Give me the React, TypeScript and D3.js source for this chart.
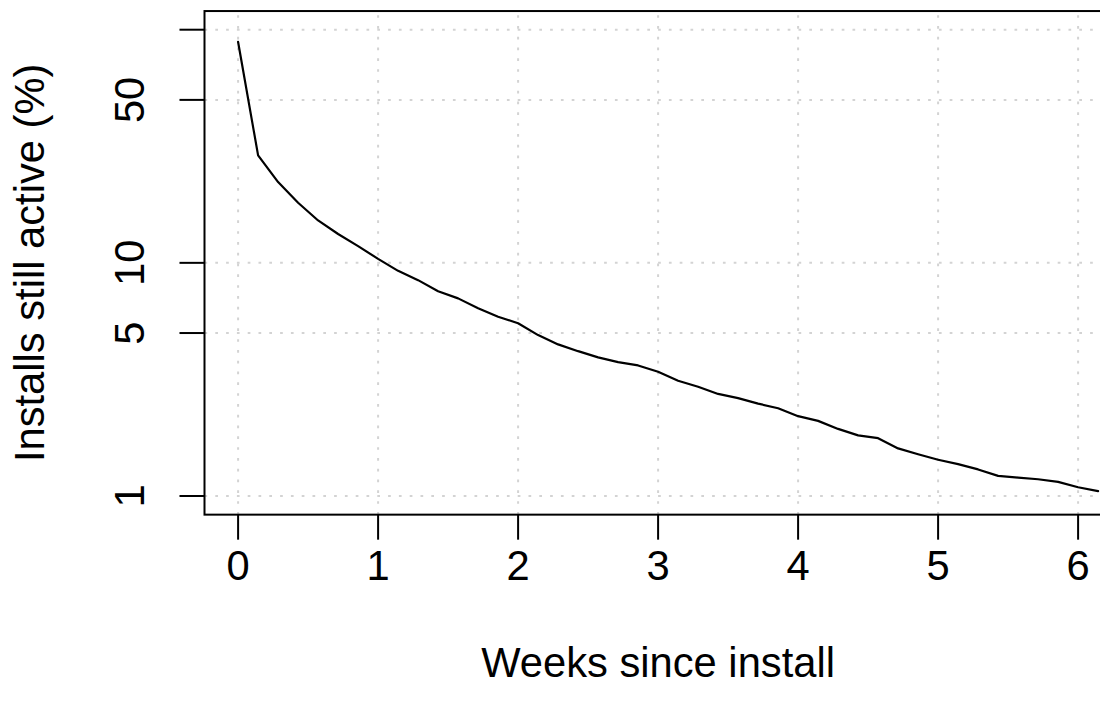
import React from "react";
import * as d3 from "d3";

// Daily retention (day index since install) -> % of installs still active
const days: number[] = [
  0, 1, 2, 3, 4, 5, 6, 7, 8, 9, 10, 11, 12, 13, 14, 15, 16, 17, 18, 19, 20, 21,
  22, 23, 24, 25, 26, 27, 28, 29, 30, 31, 32, 33, 34, 35, 36, 37, 38, 39, 40, 41,
  42, 43,
];
const activePct: number[] = [
  88.6, 28.9, 22.2, 18.1, 15.2, 13.3, 11.8, 10.4, 9.24, 8.43, 7.56, 7.04, 6.38,
  5.87, 5.51, 4.9, 4.47, 4.18, 3.93, 3.75, 3.63, 3.41, 3.12, 2.94, 2.74, 2.63,
  2.49, 2.38, 2.2, 2.1, 1.94, 1.82, 1.77, 1.6, 1.51, 1.43, 1.37, 1.3, 1.22, 1.2,
  1.18, 1.15, 1.09, 1.05,
];
const xLimits: number[] = [0, 6];
const yLimits: number[] = [1, 100];
const xTicks: number[] = [0, 1, 2, 3, 4, 5, 6];
const yTicks: number[] = [1, 5, 10, 50, 100];
const yTickLabels: string[] = ["1", "5", "10", "50", ""];
const xLabel = "Weeks since install";
const yLabel = "Installs still active (%)";

const W = 1100;
const H = 711;
const FONT = 41.7;
const LINE = FONT * 1.2;
const FAMILY = "'Liberation Sans', Arial, Helvetica, sans-serif";

export default function App() {
  const weeks = days.map((d) => d / 7);
  const xPad = (xLimits[1] - xLimits[0]) * 0.04;
  const lyMin = Math.log10(yLimits[0]);
  const lyMax = Math.log10(yLimits[1]);
  const yPad = (lyMax - lyMin) * 0.04;

  const plotLeft = 204.5;
  const plotTop = 11.05;
  const plotBottom = 514.65;
  const pxPerWeek = 140;
  const plotRight = plotLeft + (xLimits[1] - xLimits[0] + 2 * xPad) * pxPerWeek;

  const x = d3
    .scaleLinear()
    .domain([xLimits[0] - xPad, xLimits[1] + xPad])
    .range([plotLeft, plotRight]);
  const y = d3
    .scaleLog()
    .domain([Math.pow(10, lyMin - yPad), Math.pow(10, lyMax + yPad)])
    .range([plotBottom, plotTop]);

  const line = d3
    .line<number>()
    .x((_, i) => x(weeks[i]))
    .y((v) => y(v));

  const tick = LINE * 0.5;
  const gridStyle = {
    stroke: "#d3d3d3",
    strokeWidth: 2,
    strokeDasharray: "2.7 8.1",
    fill: "none",
  } as const;

  return (
    <svg
      width={W}
      height={H}
      style={{ position: "absolute", left: 0, top: 0, background: "#fff" }}
      fontFamily={FAMILY}
    >
      <rect x={0} y={0} width={W} height={H} fill="#fff" />
      <defs>
        <clipPath id="plotClip">
          <rect
            x={plotLeft}
            y={plotTop}
            width={plotRight - plotLeft}
            height={plotBottom - plotTop}
          />
        </clipPath>
      </defs>
      <g clipPath="url(#plotClip)">
        {xTicks.map((t) => (
          <path
            key={"gx" + t}
            d={`M${x(t)},${plotBottom}V${plotTop}`}
            {...gridStyle}
          />
        ))}
        {yTicks.map((t) => (
          <path
            key={"gy" + t}
            d={`M${plotLeft},${y(t)}H${plotRight}`}
            {...gridStyle}
          />
        ))}
        <path
          d={line(activePct) || ""}
          fill="none"
          stroke="#000"
          strokeWidth={2.2}
          strokeLinejoin="round"
          strokeLinecap="round"
        />
      </g>
      <rect
        x={plotLeft}
        y={plotTop}
        width={plotRight - plotLeft}
        height={plotBottom - plotTop}
        fill="none"
        stroke="#000"
        strokeWidth={2}
      />
      {xTicks.map((t) => (
        <g key={"tx" + t}>
          <line
            x1={x(t)}
            x2={x(t)}
            y1={plotBottom}
            y2={plotBottom + tick}
            stroke="#000"
            strokeWidth={2}
          />
          <text
            x={x(t)}
            y={plotBottom + LINE * 1.3}
            textAnchor="middle"
            fontSize={FONT}
            fill="#000"
          >
            {String(t)}
          </text>
        </g>
      ))}
      {yTicks.map((t, i) => (
        <g key={"ty" + t}>
          <line
            x1={plotLeft}
            x2={plotLeft - tick}
            y1={y(t)}
            y2={y(t)}
            stroke="#000"
            strokeWidth={2}
          />
          {yTickLabels[i] && (
            <text
              transform={`translate(${plotLeft - LINE * 1.2},${y(t)}) rotate(-90)`}
              textAnchor="middle"
              fontSize={FONT}
              fill="#000"
            >
              {yTickLabels[i]}
            </text>
          )}
        </g>
      ))}
      <text
        x={(plotLeft + plotRight) / 2}
        y={plotBottom + LINE * 3.25}
        textAnchor="middle"
        fontSize={FONT}
        fill="#000"
      >
        {xLabel}
      </text>
      <text
        transform={`translate(${plotLeft - LINE * 3.2},${(plotTop + plotBottom) / 2}) rotate(-90)`}
        textAnchor="middle"
        fontSize={FONT}
        fill="#000"
      >
        {yLabel}
      </text>
    </svg>
  );
}
